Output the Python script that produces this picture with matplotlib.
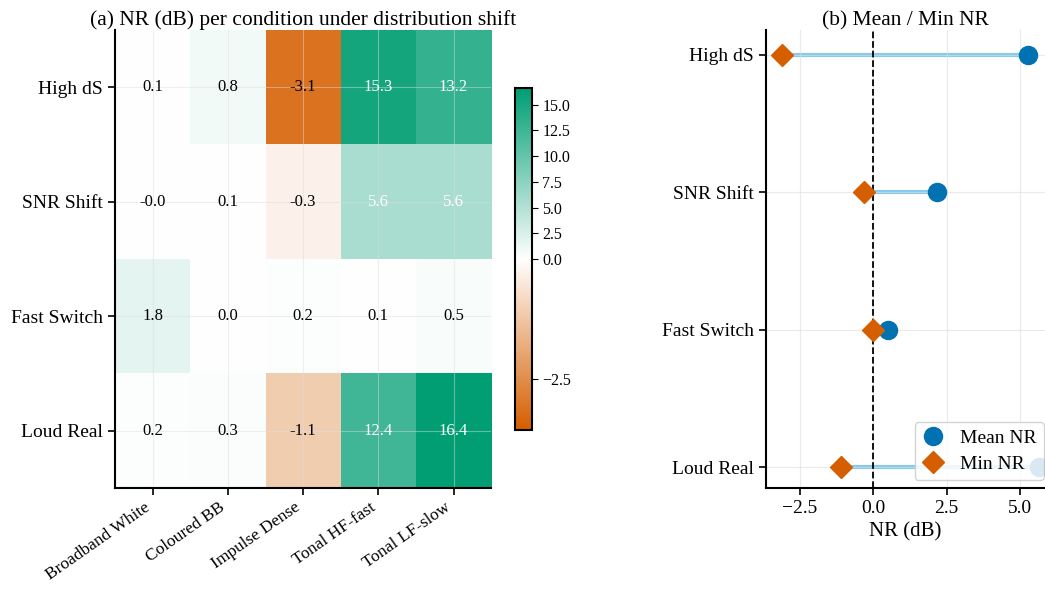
import numpy as np
import matplotlib
matplotlib.use('Agg')
import matplotlib.pyplot as plt
from matplotlib.colors import LinearSegmentedColormap, TwoSlopeNorm

plt.rcParams['font.family'] = ['Liberation Serif', 'DejaVu Serif']
plt.rcParams['axes.linewidth'] = 1.5

CONDITIONS = ['High dS', 'SNR Shift', 'Fast Switch', 'Loud Real']
NOISES = ['Broadband White', 'Coloured BB', 'Impulse Dense', 'Tonal HF-fast', 'Tonal LF-slow']

NR_HIGH_DS = [0.1, 0.8, -3.1, 15.3, 13.2]
NR_SNR_SHIFT = [-0.0, 0.1, -0.3, 5.6, 5.6]
NR_FAST_SWITCH = [1.8, 0.0, 0.2, 0.1, 0.5]
NR_LOUD_REAL = [0.2, 0.3, -1.1, 12.4, 16.4]

MEAN_NR = [5.26, 2.18, 0.52, 5.64]
MIN_NR = [-3.1, -0.3, 0.0, -1.1]

BLUE = '#0072B2'
ORANGE = '#D55E00'
GREEN = '#009E73'
SKY = '#56B4E9'

grid = np.array([NR_HIGH_DS, NR_SNR_SHIFT, NR_FAST_SWITCH, NR_LOUD_REAL])

fig = plt.figure(figsize=(10.45, 5.92), dpi=100)
ax1 = fig.add_axes([0.110, 0.176, 0.360, 0.773])
cax = fig.add_axes([0.493, 0.274, 0.016, 0.577])
ax2 = fig.add_axes([0.733, 0.176, 0.267, 0.773])

# (a) heatmap
cmap = LinearSegmentedColormap.from_list('nr', [ORANGE, 'white', GREEN])
norm = TwoSlopeNorm(vmin=-3.56, vcenter=0.0, vmax=16.6)
im = ax1.imshow(grid, cmap=cmap, norm=norm, aspect='auto')
for i in range(grid.shape[0]):
    for j in range(grid.shape[1]):
        v = grid[i, j]
        ax1.text(j, i, f'{v:.1f}', ha='center', va='center', fontsize=12,
                 color='white' if abs(v) > 5 else 'black')
ax1.set_xticks(range(len(NOISES)))
ax1.set_xticklabels(NOISES, rotation=35, ha='right', fontsize=12.5)
ax1.set_yticks(range(len(CONDITIONS)))
ax1.set_yticklabels(CONDITIONS, fontsize=14)
ax1.grid(True, color='#dddddd', alpha=0.45, lw=0.8)
ax1.tick_params(length=5, width=1.2)
ax1.spines[['top', 'right']].set_visible(False)
ax1.set_title('(a) NR (dB) per condition under distribution shift', fontsize=15.5, pad=3)

cb = fig.colorbar(im, cax=cax)
cb.set_ticks([-2.5, 0, 2.5, 5, 7.5, 10, 12.5, 15])
cb.ax.tick_params(labelsize=11.5, length=4)
cb.outline.set_linewidth(1.5)

# (b) dumbbell
y = np.arange(len(CONDITIONS))
for yi, lo, hi in zip(y, MIN_NR, MEAN_NR):
    ax2.plot([lo, hi], [yi, yi], color=SKY, alpha=0.7, lw=3, zorder=1,
             solid_capstyle='butt')
ax2.plot(MEAN_NR, y, 'o', color=BLUE, ms=13, ls='none', label='Mean NR', zorder=3)
ax2.plot(MIN_NR, y, 'D', color=ORANGE, ms=11, ls='none', label='Min NR', zorder=3)
ax2.axvline(0, color='black', ls='--', lw=1.3, zorder=2)
ax2.set_yticks(y)
ax2.set_yticklabels(CONDITIONS, fontsize=14)
ax2.set_ylim(3.15, -0.18)
ax2.set_xlim(-3.64, 5.85)
ax2.set_xticks([-2.5, 0, 2.5, 5.0])
ax2.tick_params(axis='x', labelsize=14, length=5, width=1.2)
ax2.tick_params(axis='y', length=5, width=1.2)
ax2.set_xlabel('NR (dB)', fontsize=15)
ax2.grid(True, color='#dddddd', alpha=0.6, lw=0.8)
ax2.spines[['top', 'right']].set_visible(False)
ax2.set_title('(b) Mean / Min NR', fontsize=15.5, pad=3)
ax2.legend(loc='lower right', bbox_to_anchor=(0.995, 0.017), fontsize=14,
           framealpha=0.85, borderaxespad=0, handlelength=1.2, handletextpad=0.8,
           borderpad=0.35, labelspacing=0.45)

fig.savefig('out.png', dpi=100)
